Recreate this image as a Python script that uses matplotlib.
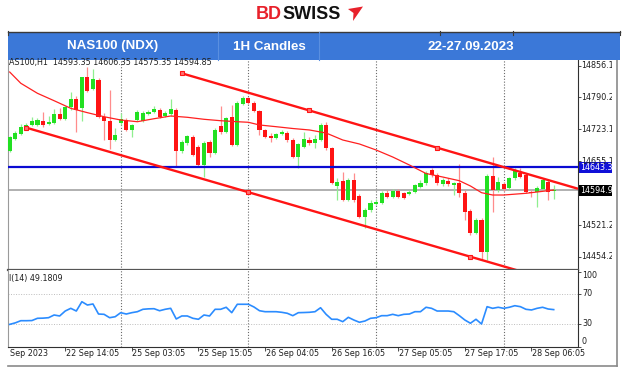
import matplotlib
matplotlib.use("Agg")
import matplotlib.pyplot as plt
from matplotlib.patches import Rectangle, Polygon
from matplotlib.lines import Line2D
import matplotlib.transforms as mtrans

# ---------------- data ----------------
opens = [14677.1, 14703.0, 14712.9, 14725.6, 14731.9, 14731.9, 14740.3, 14734.0, 14736.1, 14755.0,
         14744.5, 14769.8, 14786.6, 14767.7, 14832.9, 14807.7, 14826.6, 14748.7, 14740.3, 14700.3,
         14736.1, 14742.4, 14721.4, 14742.4, 14740.3, 14755.0, 14759.2, 14763.4, 14750.8, 14755.0,
         14763.4, 14677.1, 14693.9, 14706.6, 14685.6, 14647.7, 14696.0, 14672.9, 14729.8, 14717.1,
         14748.7, 14689.7, 14776.1, 14788.7, 14778.2, 14761.3, 14721.4, 14708.7, 14704.5, 14712.9,
         14715.0, 14700.3, 14664.5, 14685.6, 14700.3, 14693.9, 14700.3, 14731.9, 14683.5, 14603.4,
         14614.0, 14574.0, 14616.0, 14582.4, 14538.2, 14552.9, 14565.5, 14567.7, 14588.7, 14580.3,
         14592.9, 14588.7, 14586.6, 14590.8, 14601.3, 14609.7, 14637.1, 14626.6, 14607.6, 14614.0,
         14605.5, 14609.7, 14588.7, 14550.8, 14504.5, 14531.8, 14464.5, 14624.5, 14595.0, 14607.6,
         14599.2, 14620.2, 14630.8, 14626.6, 14590.8, 14590.8, 14597.1, 14611.8, 14593.35]
highs = [14708.7, 14719.2, 14734.0, 14736.7, 14748.7, 14746.6, 14759.2, 14750.8, 14765.6, 14767.7,
         14771.9, 14801.3, 14792.9, 14833.5, 14854.0, 14849.8, 14830.8, 14757.1, 14805.6, 14725.6,
         14757.1, 14746.6, 14734.0, 14763.4, 14761.3, 14763.4, 14771.9, 14767.7, 14761.3, 14786.6,
         14767.7, 14700.3, 14710.8, 14710.8, 14689.7, 14698.2, 14700.3, 14725.6, 14771.9, 14748.7,
         14774.0, 14782.4, 14792.9, 14790.8, 14782.4, 14763.4, 14723.5, 14715.0, 14715.0, 14721.4,
         14719.2, 14704.5, 14693.9, 14717.1, 14706.6, 14710.8, 14736.1, 14738.2, 14685.6, 14620.2,
         14632.9, 14620.2, 14630.8, 14586.6, 14557.1, 14574.0, 14576.1, 14592.9, 14595.0, 14597.1,
         14597.1, 14590.8, 14595.0, 14607.6, 14616.0, 14635.0, 14641.4, 14630.8, 14620.2, 14620.2,
         14611.8, 14649.7, 14595.0, 14555.0, 14536.1, 14536.1, 14628.7, 14664.5, 14622.4, 14611.8,
         14622.4, 14641.4, 14641.4, 14630.8, 14595.0, 14603.4, 14620.2, 14616.0, 14606.35]
lows = [14675.0, 14700.3, 14710.8, 14723.5, 14729.8, 14729.8, 14727.7, 14731.9, 14734.0, 14742.4,
        14742.4, 14763.4, 14717.1, 14740.3, 14801.3, 14805.6, 14746.6, 14700.3, 14681.4, 14698.2,
        14731.9, 14719.2, 14706.6, 14740.3, 14738.2, 14752.9, 14757.1, 14746.6, 14748.7, 14750.8,
        14645.5, 14672.9, 14689.7, 14666.6, 14645.5, 14622.4, 14664.5, 14670.8, 14712.9, 14715.0,
        14687.6, 14687.6, 14774.0, 14776.1, 14759.2, 14710.8, 14704.5, 14696.0, 14702.4, 14710.8,
        14696.0, 14662.4, 14641.4, 14683.5, 14689.7, 14683.5, 14698.2, 14679.2, 14607.6, 14574.0,
        14571.8, 14571.8, 14569.7, 14536.1, 14515.1, 14548.7, 14563.5, 14565.5, 14578.2, 14578.2,
        14578.2, 14576.1, 14584.5, 14588.7, 14599.2, 14605.5, 14622.4, 14605.5, 14603.4, 14603.4,
        14584.5, 14580.3, 14531.8, 14500.3, 14502.4, 14447.7, 14447.7, 14548.7, 14590.8, 14592.9,
        14595.0, 14616.0, 14620.2, 14588.7, 14580.3, 14559.2, 14595.0, 14574.0, 14575.35]
closes = [14706.6, 14715.7, 14727.7, 14731.9, 14740.3, 14742.4, 14731.9, 14738.2, 14755.0, 14744.5,
          14769.8, 14786.6, 14763.4, 14832.3, 14803.4, 14828.7, 14748.7, 14740.3, 14700.3, 14710.8,
          14744.5, 14721.4, 14731.9, 14759.2, 14757.1, 14759.2, 14765.6, 14748.7, 14757.1, 14765.6,
          14677.1, 14696.0, 14708.7, 14668.7, 14647.7, 14693.9, 14672.9, 14721.4, 14717.1, 14746.6,
          14689.7, 14778.2, 14788.7, 14778.2, 14761.3, 14721.4, 14706.6, 14704.5, 14712.9, 14717.1,
          14700.3, 14664.5, 14691.8, 14702.4, 14693.9, 14702.4, 14731.9, 14683.5, 14609.7, 14611.8,
          14574.0, 14616.0, 14574.0, 14538.2, 14552.9, 14567.7, 14569.7, 14588.7, 14580.3, 14592.9,
          14580.3, 14578.2, 14590.8, 14605.5, 14609.7, 14630.8, 14626.6, 14609.7, 14616.0, 14607.6,
          14609.7, 14588.7, 14548.7, 14504.5, 14531.8, 14464.5, 14624.5, 14595.0, 14611.8, 14597.1,
          14620.2, 14637.1, 14622.4, 14590.8, 14588.7, 14599.2, 14616.0, 14590.8, 14594.85]

ma_idx = [0, 2, 5, 8, 11, 14, 17, 20, 23, 26, 29, 32, 35, 38, 41, 43, 45, 48, 51, 54,
          57, 60, 63, 66, 69, 72, 75, 78, 81, 83, 85, 87, 89, 93, 98]
ma_vals = [14843.4, 14819.7, 14798.6, 14783.0, 14767.0, 14757.8, 14749.3, 14742.4, 14738.8, 14745.1,
           14750.8, 14748.1, 14743.9, 14740.9, 14738.8, 14737.6, 14731.9, 14728.3, 14724.5, 14721.4,
           14715.0, 14700.3, 14691.9, 14679.3, 14664.5, 14647.7, 14629.8, 14622.4, 14614.6, 14603.5,
           14589.4, 14584.5, 14584.5, 14588.1, 14595.0]

rsi_vals = [29.5, 31.5, 34.4, 34.4, 34.6, 37.6, 37.8, 38.4, 42.0, 40.7,
            47.3, 50.9, 47.3, 59.7, 55.3, 56.7, 43.3, 42.9, 38.4, 39.7,
            45.1, 43.3, 45.1, 46.4, 49.6, 50.2, 50.4, 47.7, 49.6, 50.9,
            36.7, 40.7, 40.7, 37.6, 36.3, 42.0, 40.7, 49.6, 49.6, 52.3,
            45.1, 56.3, 56.3, 56.3, 52.7, 47.7, 46.4, 46.4, 46.4, 45.6,
            44.3, 41.1, 45.1, 45.3, 45.6, 46.4, 51.7, 42.9, 36.3, 36.3,
            33.1, 38.9, 35.3, 32.3, 34.0, 37.6, 38.4, 41.1, 41.1, 42.9,
            41.1, 42.9, 43.3, 46.4, 46.4, 52.3, 50.9, 47.3, 47.3, 47.3,
            46.4, 41.1, 35.3, 31.0, 36.3, 30.0, 53.1, 50.9, 52.3, 50.9,
            52.3, 54.4, 53.1, 49.6, 48.7, 50.9, 52.3, 50.0, 49.1809]

chan_up_idx = [31, 77]
chan_up_vals = [14840.7, 14684.1]
chan_lo_idx = [3, 83]
chan_lo_vals = [14726.2, 14454.6]

support_level = 14643.3
price_ticks = [14856.1, 14790.2, 14723.1, 14655.1, 14521.2, 14454.2]
rsi_ticks = [100, 70, 30, 0]
rsi_levels = [70, 30]
day_sep_idx = [20, 43, 66, 89]
time_tick_idx = [10, 22, 34, 46, 58, 70, 82, 94]
time_tick_labels = ["22 Sep 14:05", "25 Sep 03:05", "25 Sep 15:05", "26 Sep 04:05",
                    "26 Sep 16:05", "27 Sep 05:05", "27 Sep 17:05", "28 Sep 06:05"]
header_cells = ["NAS100 (NDX)", "1H Candles", "22-27.09.2023"]

# ---------------- layout / style ----------------
W, H = 624, 373
fig = plt.figure(figsize=(W / 100, H / 100), dpi=100)
fig.patch.set_facecolor("white")


def fx(x):
    return x / W


def fy(y):
    return 1 - y / H


FONT = "DejaVu Sans"
FS = 5.8
RED = "#ff1414"
RED_W = "#ff8c8c"
GREEN = "#22e022"
GREEN_W = "#8fef8f"

L, R = 8, 578
MT, MB = 59.5, 269.5
RT, RB = 269.5, 347
PX0, PXS = 9.7, 5.551          # bar index -> pixel
PY0, PYS = 14995.0, 2.105      # pixel -> price

ax = fig.add_axes([fx(L), fy(MB), fx(R) - fx(L), fy(MT) - fy(MB)])
axr = fig.add_axes([fx(L), fy(RB), fx(R) - fx(L), fy(RT) - fy(RB)])
xa, xb = (L - PX0) / PXS, (R - PX0) / PXS
for a in (ax, axr):
    a.set_xlim(xa, xb)
    a.set_facecolor("white")
    a.set_xticks([])
ax.set_ylim(PY0 - PYS * MB, PY0 - PYS * MT)
axr.set_ylim(100 - (RB - 271.5) / 0.75, 100 - (RT - 271.5) / 0.75)

# spines
for a in (ax, axr):
    a.spines["left"].set_color("#9a9a9a")
    a.spines["left"].set_linewidth(0.8)
    a.spines["right"].set_color("#303030")
    a.spines["right"].set_linewidth(0.8)
ax.spines["top"].set_visible(False)
ax.spines["bottom"].set_color("#555555")
ax.spines["bottom"].set_linewidth(1.6)
ax.spines["bottom"].set_zorder(10)
axr.spines["top"].set_visible(False)
axr.spines["bottom"].set_color("#303030")
axr.spines["bottom"].set_linewidth(0.8)

# y ticks (marks only)
ax.yaxis.tick_right()
ax.set_yticks(price_ticks)
ax.tick_params(axis="y", length=2, width=0.6, direction="out", labelright=False, colors="#303030")
axr.yaxis.tick_right()
axr.set_yticks(rsi_ticks)
axr.tick_params(axis="y", length=2, width=0.6, direction="out", labelright=False, colors="#303030")
axr.set_xticks(time_tick_idx)
axr.tick_params(axis="x", length=3, width=0.6, direction="out", labelbottom=False, colors="#303030")

# day separators
for a in (ax, axr):
    for s in day_sep_idx:
        a.axvline(s, color="#6a6a6a", lw=0.8, ls=(0, (1, 1.6)), zorder=1)

# horizontal lines
ax.axhline(support_level, color="#0a0ad2", lw=1.6, zorder=5)
ax.axhline(closes[-1], color="#a3a3a3", lw=1.2, zorder=2)

# candles
for i in range(len(opens)):
    o, h, l, c = opens[i], highs[i], lows[i], closes[i]
    up = c >= o
    ax.plot([i, i], [l, h], color=GREEN_W if up else RED_W, lw=0.9,
            solid_capstyle="butt", zorder=3)
    lo = min(o, c)
    hgt = max(abs(c - o), 1.6)
    ax.add_patch(Rectangle((i - 0.37, lo), 0.74, hgt, facecolor=GREEN if up else RED,
                           edgecolor="none", zorder=4))

# moving average
ax.plot(ma_idx, ma_vals, color="#ff2020", lw=0.9, zorder=6)

# channel rays
for idx, vals in ((chan_up_idx, chan_up_vals), (chan_lo_idx, chan_lo_vals)):
    slope = (vals[1] - vals[0]) / (idx[1] - idx[0])
    end_v = vals[0] + slope * (xb - idx[0])
    ax.plot([idx[0], xb], [vals[0], end_v], color=RED, lw=1.7, zorder=7,
            solid_capstyle="butt")
    mid_i = (idx[0] + idx[1]) / 2
    ax.plot([idx[0], mid_i, idx[1]], [vals[0], vals[0] + slope * (mid_i - idx[0]), vals[1]],
            ls="none", marker="s", ms=3.2, mfc="#ff7070", mec=RED, mew=0.8, zorder=8)

# RSI
axr.plot(range(len(rsi_vals)), rsi_vals, color="#2b8cff", lw=1.2, zorder=4)
for lv in rsi_levels:
    axr.axhline(lv, color="#bdbdbd", lw=0.7, ls=(0, (1, 1.6)), zorder=1)

# ---------------- texts ----------------
clipbox = mtrans.Bbox.from_extents(L + 0.5, 0, 612, H)
tr_main = mtrans.blended_transform_factory(fig.transFigure, ax.transData)
for p in price_ticks:
    t = fig.text(fx(581), p, f"{p:.1f}", transform=tr_main, fontsize=FS, family=FONT,
                 color="#202020", va="center", ha="left")
    t.set_clip_box(clipbox)
    t.set_clip_on(True)

# current price / level labels
for val, fc in ((support_level, "#1010d8"), (closes[-1], "black")):
    y_pix = (PY0 - val) / PYS
    fig.patches.append(Rectangle((fx(578.5), fy(y_pix + 5.5)), fx(612) - fx(578.5), 11 / H,
                                 transform=fig.transFigure, facecolor=fc, edgecolor="none",
                                 zorder=3))
    t = fig.text(fx(580.5), val, f"{val:.1f}", transform=tr_main, fontsize=FS, family=FONT,
                 color="white", va="center", ha="left", zorder=4)
    t.set_clip_box(clipbox)
    t.set_clip_on(True)

tr_rsi = mtrans.blended_transform_factory(fig.transFigure, axr.transData)
for v in rsi_ticks:
    va = "top" if v == 100 else ("bottom" if v == 0 else "center")
    fig.text(fx(582), v, f"{v}", transform=tr_rsi, fontsize=FS, family=FONT,
             color="#202020", va=va, ha="left")

tr_time = mtrans.blended_transform_factory(axr.transData, fig.transFigure)
for i, lab in zip(time_tick_idx, time_tick_labels):
    fig.text(i + 0.1, fy(354), lab, transform=tr_time, fontsize=FS, family=FONT,
             color="#202020", va="center", ha="left")
fig.text(fx(10), fy(354), "Sep 2023", fontsize=FS, family=FONT, color="#202020",
         va="center", ha="left")

fig.text(fx(9), fy(62.5),
         f"AS100,H1  {opens[-1]:.2f} {highs[-1]:.2f} {lows[-1]:.2f} {closes[-1]:.2f}",
         fontsize=FS, family=FONT, color="#202020", va="center", ha="left", zorder=5)
fig.text(fx(9), fy(278.5), f"I(14) {rsi_vals[-1]:.4f}", fontsize=FS, family=FONT,
         color="#202020", va="center", ha="left")

# outer frame
fig.lines.append(Line2D([fx(617), fx(617)], [fy(59), fy(366)], transform=fig.transFigure,
                        color="#8a8a8a", lw=1.2))
fig.lines.append(Line2D([fx(8), fx(617)], [fy(366), fy(366)], transform=fig.transFigure,
                        color="#8a8a8a", lw=1.2))

# header band
fig.patches.append(Rectangle((fx(8), fy(59.5)), fx(620) - fx(8), 27.5 / H,
                             transform=fig.transFigure, facecolor="#3b78d8",
                             edgecolor="none", zorder=5))
fig.lines.append(Line2D([fx(8), fx(620)], [fy(32.3), fy(32.3)], transform=fig.transFigure,
                        color="#3a3a3a", lw=1.0, zorder=6))
for xd in (218, 319):
    fig.lines.append(Line2D([fx(xd), fx(xd)], [fy(32), fy(59.5)], transform=fig.transFigure,
                            color="#5a8fe0", lw=0.8, zorder=6))
for xd in (8, 440, 513, 620):
    fig.lines.append(Line2D([fx(xd), fx(xd)], [fy(31), fy(35)], transform=fig.transFigure,
                            color="#3a3a3a", lw=0.8, zorder=6))
for lab, xc in zip(header_cells, (113, 269, 471)):
    fig.text(fx(xc), fy(46.5), lab, fontsize=9.6, family="Liberation Sans",
             fontweight="bold", color="white", ha="center", va="center", zorder=7)

# logo
fig.text(fx(282), fy(14.5), "BD", fontsize=13, family="Liberation Sans", fontweight="bold",
         color="#e8212b", ha="right", va="center")
fig.text(fx(282), fy(14.5), "SWISS", fontsize=13, family="Liberation Sans",
         fontweight="bold", color="#111111", ha="left", va="center")
fig.patches.append(Polygon([(fx(348), fy(9)), (fx(363), fy(6.5)), (fx(353), fy(21)),
                            (fx(353.5), fy(13))], closed=True, transform=fig.transFigure,
                           facecolor="#e8212b", edgecolor="none"))

fig.savefig("out.png", dpi=100)
